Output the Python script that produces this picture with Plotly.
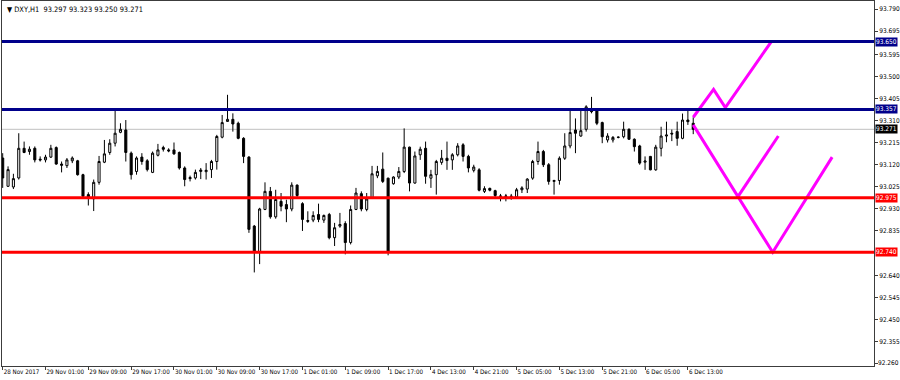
import plotly.graph_objects as go

# ---------------- data ----------------
opens = [93.147, 93.025, 93.022, 93.061, 93.189, 93.175, 93.189, 93.142, 93.139, 93.151,
         93.192, 93.121, 93.114, 93.135, 93.135, 93.075, 92.989, 92.971, 93.042, 93.129,
         93.171, 93.211, 93.258, 93.268, 93.168, 93.089, 93.151, 93.135, 93.085, 93.159,
         93.192, 93.182, 93.182, 93.171, 93.104, 93.063, 93.061, 93.089, 93.088, 93.097,
         93.132, 93.237, 93.305, 93.314, 93.297, 93.232, 93.151, 92.853, 92.741, 92.925,
         93.003, 92.893, 92.960, 92.946, 92.927, 93.030, 92.950, 92.877, 92.879, 92.903,
         92.879, 92.903, 92.803, 92.853, 92.864, 92.782, 92.925, 92.993, 92.925, 92.975,
         93.070, 93.099, 93.060, 93.036, 93.065, 93.089, 93.194, 93.039, 93.161, 93.189,
         93.060, 93.075, 93.128, 93.146, 93.139, 93.161, 93.204, 93.154, 93.094, 93.096,
         93.003, 93.016, 93.006, 92.981, 92.980, 92.980, 92.979, 93.010, 93.013, 93.060,
         93.132, 93.175, 93.118, 93.046, 93.050, 93.146, 93.199, 93.268, 93.242, 93.271,
         93.361, 93.354, 93.300, 93.225, 93.225, 93.236, 93.239, 93.271, 93.228, 93.199,
         93.129, 93.154, 93.096, 93.189, 93.242, 93.254, 93.261, 93.232, 93.311, 93.297]
highs = [93.168, 93.111, 93.079, 93.254, 93.218, 93.197, 93.197, 93.154, 93.161, 93.204,
         93.197, 93.132, 93.147, 93.154, 93.139, 93.079, 92.999, 93.054, 93.156, 93.225,
         93.228, 93.354, 93.297, 93.311, 93.175, 93.154, 93.168, 93.142, 93.175, 93.208,
         93.200, 93.189, 93.214, 93.175, 93.111, 93.071, 93.097, 93.104, 93.125, 93.139,
         93.247, 93.333, 93.420, 93.340, 93.304, 93.237, 93.155, 92.858, 92.932, 93.042,
         93.022, 93.010, 92.996, 92.967, 93.042, 93.033, 92.956, 92.917, 92.917, 92.950,
         92.903, 92.910, 92.867, 92.910, 92.874, 92.942, 93.018, 93.003, 92.996, 93.113,
         93.113, 93.171, 93.062, 93.068, 93.108, 93.275, 93.196, 93.175, 93.196, 93.218,
         93.096, 93.139, 93.182, 93.218, 93.168, 93.211, 93.211, 93.161, 93.118, 93.103,
         93.025, 93.019, 93.010, 92.992, 92.992, 92.992, 93.018, 93.025, 93.060, 93.139,
         93.218, 93.182, 93.125, 93.053, 93.154, 93.254, 93.351, 93.318, 93.351, 93.375,
         93.411, 93.357, 93.304, 93.254, 93.242, 93.240, 93.304, 93.275, 93.232, 93.204,
         93.154, 93.156, 93.204, 93.282, 93.304, 93.270, 93.304, 93.339, 93.354, 93.323]
lows = [93.018, 93.022, 93.013, 93.054, 93.168, 93.161, 93.128, 93.132, 93.128, 93.147,
        93.118, 93.085, 93.104, 93.125, 93.071, 92.975, 92.942, 92.918, 93.032, 93.125,
        93.161, 93.197, 93.254, 93.132, 93.054, 93.075, 93.118, 93.089, 93.082, 93.154,
        93.175, 93.172, 93.161, 93.097, 93.025, 93.046, 93.054, 93.056, 93.054, 93.061,
        93.097, 93.232, 93.303, 93.261, 93.228, 93.125, 92.824, 92.653, 92.689, 92.922,
        92.885, 92.885, 92.917, 92.870, 92.917, 92.979, 92.832, 92.867, 92.870, 92.870,
        92.867, 92.796, 92.767, 92.846, 92.731, 92.774, 92.922, 92.917, 92.917, 92.970,
        93.060, 93.039, 92.727, 93.032, 93.056, 93.082, 93.003, 93.036, 93.139, 93.036,
        93.018, 92.989, 93.118, 93.096, 93.096, 93.154, 93.132, 93.085, 93.085, 93.003,
        92.996, 93.003, 92.970, 92.960, 92.960, 92.967, 92.970, 92.996, 92.996, 93.053,
        93.118, 93.108, 93.032, 92.989, 93.032, 93.139, 93.189, 93.168, 93.239, 93.261,
        93.340, 93.289, 93.211, 93.214, 93.214, 93.232, 93.232, 93.225, 93.175, 93.118,
        93.096, 93.094, 93.092, 93.154, 93.215, 93.220, 93.200, 93.228, 93.290, 93.250]
closes = [93.061, 93.097, 93.058, 93.189, 93.171, 93.185, 93.139, 93.139, 93.151, 93.189,
          93.121, 93.116, 93.139, 93.147, 93.075, 92.982, 92.979, 93.042, 93.132, 93.165,
          93.211, 93.254, 93.271, 93.171, 93.075, 93.147, 93.132, 93.097, 93.168, 93.182,
          93.185, 93.178, 93.165, 93.104, 93.054, 93.058, 93.085, 93.095, 93.094, 93.132,
          93.240, 93.300, 93.314, 93.294, 93.232, 93.154, 92.839, 92.741, 92.927, 93.003,
          92.893, 92.968, 92.939, 92.927, 93.030, 92.985, 92.882, 92.874, 92.899, 92.882,
          92.899, 92.803, 92.846, 92.860, 92.782, 92.925, 92.996, 92.927, 92.970, 93.079,
          93.089, 93.046, 92.741, 93.065, 93.089, 93.194, 93.039, 93.156, 93.185, 93.068,
          93.075, 93.132, 93.146, 93.136, 93.161, 93.199, 93.154, 93.104, 93.108, 93.008,
          93.015, 93.008, 92.985, 92.983, 92.983, 92.982, 93.010, 93.018, 93.056, 93.132,
          93.175, 93.118, 93.046, 93.050, 93.146, 93.199, 93.257, 93.254, 93.265, 93.368,
          93.347, 93.297, 93.239, 93.242, 93.236, 93.237, 93.271, 93.228, 93.196, 93.125,
          93.134, 93.096, 93.194, 93.242, 93.246, 93.251, 93.232, 93.311, 93.304, 93.271]
bars = list(range(len(opens)))

tick_bars = [0, 8, 16, 24, 32, 40, 48, 56, 64, 72, 80, 88, 96, 104, 112, 120, 128]
tick_labels = ["28 Nov 2017", "29 Nov 01:00", "29 Nov 09:00", "29 Nov 17:00", "30 Nov 01:00",
               "30 Nov 09:00", "30 Nov 17:00", "1 Dec 01:00", "1 Dec 09:00", "1 Dec 17:00",
               "4 Dec 13:00", "4 Dec 21:00", "5 Dec 05:00", "5 Dec 13:00", "5 Dec 21:00",
               "6 Dec 05:00", "6 Dec 13:00"]

price_ticks = [93.790, 93.695, 93.595, 93.500, 93.405, 93.310, 93.215, 93.120, 93.025,
               92.930, 92.835, 92.640, 92.545, 92.450, 92.355, 92.260]

resistance_levels = [93.650, 93.357]
support_levels = [92.975, 92.740]
bid_price = 93.271

# projection paths (bar index, price)
path_up_x = [129, 132.8, 135.0, 143.6]
path_up_y = [93.323, 93.443, 93.365, 93.650]
path_down_x = [129, 143.85, 154.95]
path_down_y = [93.290, 92.740, 93.151]
path_mid_x = [137.2, 144.9]
path_mid_y = [92.975, 93.242]

header = "\u25BC DXY,H1  93.297 93.323 93.250 93.271"

# ---------------- figure ----------------
FONT = "DejaVu Sans Condensed, DejaVu Sans, Liberation Sans, sans-serif"
AXC = "#3c3c3c"
FSX = 6.2
FSY = 6.5

fig = go.Figure()

fig.add_trace(go.Candlestick(
    x=bars, open=opens, high=highs, low=lows, close=closes,
    increasing=dict(line=dict(color="black", width=1), fillcolor="white"),
    decreasing=dict(line=dict(color="black", width=1), fillcolor="black"),
    whiskerwidth=0, showlegend=False, hoverinfo="skip",
))

for xs, ys in [(path_up_x, path_up_y), (path_down_x, path_down_y), (path_mid_x, path_mid_y)]:
    fig.add_trace(go.Scatter(x=xs, y=ys, mode="lines",
                             line=dict(color="#FF00FF", width=3),
                             showlegend=False, hoverinfo="skip"))

shapes = []
shapes.append(dict(type="line", xref="paper", x0=0, x1=1, yref="y", y0=bid_price, y1=bid_price,
                   line=dict(color="#C0C0C0", width=1), layer="below"))
for lv in resistance_levels:
    shapes.append(dict(type="line", xref="paper", x0=0, x1=1, yref="y", y0=lv, y1=lv,
                       line=dict(color="#00008B", width=3)))
for lv in support_levels:
    shapes.append(dict(type="line", xref="paper", x0=0, x1=1, yref="y", y0=lv, y1=lv,
                       line=dict(color="#FF0000", width=3)))

annotations = []
def price_box(val, bg):
    annotations.append(dict(xref="paper", x=1, xanchor="left", xshift=1, yref="y", y=val,
                            text=f"{val:.3f}", showarrow=False, bgcolor=bg, borderpad=0,
                            font=dict(family=FONT, size=FSY, color="white")))
for lv in resistance_levels:
    price_box(lv, "#00008B")
price_box(bid_price, "#000000")
for lv in support_levels:
    price_box(lv, "#FF0000")

# lowest price label sits on the axis corner, drawn as text so it is not culled
low_tick = price_ticks[-1]
annotations.append(dict(xref="paper", x=1, xanchor="left", xshift=3, yref="y", y=low_tick,
                        text=f"{low_tick:.3f}", showarrow=False, borderpad=0,
                        font=dict(family=FONT, size=FSY, color="black")))
y_ticktext = [f"{v:.3f}" for v in price_ticks[:-1]] + [""]

annotations.append(dict(xref="paper", yref="paper", x=0, y=1, xanchor="left", yanchor="top",
                        xshift=3, yshift=-2, text=header, showarrow=False,
                        font=dict(family=FONT, size=7.4, color="black")))

fig.update_layout(
    width=900, height=380,
    margin=dict(l=2, r=26, t=1, b=14, autoexpand=False),
    paper_bgcolor="white", plot_bgcolor="white",
    shapes=shapes, annotations=annotations,
    font=dict(family=FONT, size=FSY, color="black"),
    boxgap=0.45,
    xaxis=dict(range=[-0.13, 162.77], rangeslider=dict(visible=False),
               tickvals=tick_bars, ticktext=tick_labels, ticks="outside", ticklen=3,
               tickcolor=AXC, ticklabelposition="outside right", tickangle=0,
               automargin=False,
               showgrid=False, zeroline=False, showline=True, mirror=True,
               linecolor=AXC, linewidth=1, tickfont=dict(family=FONT, size=FSX)),
    yaxis=dict(range=[92.249, 93.825], side="right", tickvals=price_ticks,
               ticktext=y_ticktext, ticks="outside", ticklen=3,
               tickcolor=AXC, automargin=False,
               showgrid=False, zeroline=False, showline=True, mirror=True,
               linecolor=AXC, linewidth=1, tickfont=dict(family=FONT, size=FSY)),
)

fig.write_html("out.html")
